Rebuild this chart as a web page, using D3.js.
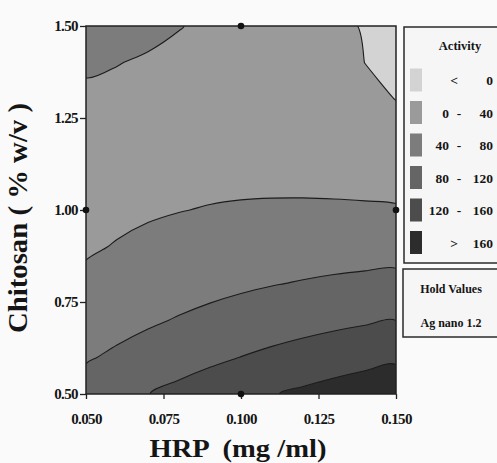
<!DOCTYPE html>
<html>
<head>
<meta charset="utf-8">
<script src="https://cdn.jsdelivr.net/npm/d3@7"></script>
<style>
  html, body { margin: 0; padding: 0; background: #fafafa; }
  svg { display: block; }
  text { font-family: "Liberation Serif", "DejaVu Serif", serif; fill: #151515; }
</style>
</head>
<body>
<svg id="chart" width="497" height="463"></svg>
<script>
// Grid of HRP (x) and Chitosan (y) levels for the response surface
const hrp = [0.05, 0.06, 0.07, 0.08, 0.09, 0.10, 0.11, 0.12, 0.13, 0.14, 0.15];
const chitosan = [0.5, 0.6, 0.7, 0.8, 0.9, 1.0, 1.1, 1.2, 1.3, 1.4, 1.5];

// Activity, one row per chitosan level (Ag nano held at 1.2)
const activity = [
  [97.1, 108.4, 119.3, 129.7, 139.6, 149.1, 158.0, 166.5, 174.6, 182.1, 189.2],
  [76.4, 86.2, 95.4, 104.3, 112.6, 120.4, 127.8, 134.7, 141.2, 147.2, 152.7],
  [59.4, 67.6, 75.3, 82.5, 89.2, 95.5, 101.3, 106.6, 111.5, 115.9, 119.8],
  [46.1, 52.7, 58.8, 64.4, 69.6, 74.3, 78.5, 82.2, 85.5, 88.3, 90.6],
  [36.5, 41.5, 46.0, 50.0, 53.6, 56.7, 59.3, 61.5, 63.1, 64.3, 65.1],
  [30.6, 34.0, 36.9, 39.3, 41.3, 42.8, 43.8, 44.4, 44.5, 44.1, 43.2],
  [28.3, 30.1, 31.4, 32.3, 32.7, 32.6, 32.0, 31.0, 29.5, 27.5, 25.1],
  [29.7, 30.0, 29.7, 29.0, 27.7, 26.1, 23.9, 21.3, 18.2, 14.6, 10.6],
  [34.8, 33.5, 31.6, 29.3, 26.5, 23.2, 19.5, 15.3, 10.6, 5.4, -0.2],
  [43.6, 40.7, 37.2, 33.3, 28.9, 24.0, 18.7, 12.9, 6.6, -0.1, -7.3],
  [56.1, 51.5, 46.5, 41.0, 35.0, 28.6, 21.6, 14.2, 6.4, -2.0, -10.8]
];

// Contour levels and legend
const levels = [0, 40, 80, 120, 160];
const bandColors = ["#d3d3d3", "#9a9a9a", "#7c7c7c", "#656565", "#4c4c4c", "#2c2c2c"];
const bandLow = ["<", "0", "40", "80", "120", ">"];
const bandHigh = ["0", "40", "80", "120", "160", "160"];

// Design points
const designX = [0.10, 0.05, 0.15, 0.10];
const designY = [1.50, 1.00, 1.00, 0.50];

const xTicks = [0.050, 0.075, 0.100, 0.125, 0.150];
const yTicks = [0.50, 0.75, 1.00, 1.25, 1.50];

const svg = d3.select("#chart");
const plotLeft = 86, plotRight = 396, plotTop = 26, plotBottom = 394;

const x = d3.scaleLinear().domain([0.05, 0.15]).range([plotLeft, plotRight]);
const y = d3.scaleLinear().domain([0.5, 1.5]).range([plotBottom, plotTop]);

// grid coordinates (sample i sits at i + 0.5) to pixels
const nx = hrp.length, ny = chitosan.length;
const gx = d3.scaleLinear().domain([0.5, nx - 0.5]).range([x(hrp[0]), x(hrp[nx - 1])]);
const gy = d3.scaleLinear().domain([0.5, ny - 0.5]).range([y(chitosan[0]), y(chitosan[ny - 1])]);

const values = activity.flat();
const contours = d3.contours().size([nx, ny]).thresholds(levels)(values);

// each ring drawn as a smooth closed curve through the contour vertices
const ringLine = d3.line()
  .x(p => gx(p[0])).y(p => gy(p[1]))
  .curve(d3.curveCatmullRomClosed.alpha(0.5));
function contourPath(mp) {
  let s = "";
  mp.coordinates.forEach(poly => poly.forEach(ring => {
    s += ringLine(ring.slice(0, -1));
  }));
  return s;
}

svg.append("clipPath").attr("id", "plotClip")
  .append("rect").attr("x", plotLeft).attr("y", plotTop)
  .attr("width", plotRight - plotLeft).attr("height", plotBottom - plotTop);

const plot = svg.append("g").attr("clip-path", "url(#plotClip)");
plot.append("rect").attr("x", plotLeft).attr("y", plotTop)
  .attr("width", plotRight - plotLeft).attr("height", plotBottom - plotTop)
  .attr("fill", bandColors[0]);

plot.selectAll("path.band").data(contours).join("path")
  .attr("class", "band")
  .attr("d", contourPath)
  .attr("fill-rule", "evenodd")
  .attr("fill", (d, i) => bandColors[i + 1])
  .attr("stroke", "#1c1c1c")
  .attr("stroke-width", 1.1)
  .attr("stroke-linejoin", "round");

// plot frame
svg.append("rect").attr("x", plotLeft).attr("y", plotTop)
  .attr("width", plotRight - plotLeft).attr("height", plotBottom - plotTop)
  .attr("fill", "none").attr("stroke", "#222").attr("stroke-width", 1.5);

// axes
const xAxis = svg.append("g").attr("transform", `translate(0,${plotBottom})`)
  .call(d3.axisBottom(x).tickValues(xTicks).tickFormat(d3.format(".3f")).tickSize(5).tickPadding(14));
const yAxis = svg.append("g").attr("transform", `translate(${plotLeft},0)`)
  .call(d3.axisLeft(y).tickValues(yTicks).tickFormat(d3.format(".2f")).tickSize(6).tickPadding(2));
[xAxis, yAxis].forEach(g => {
  g.select(".domain").remove();
  g.selectAll(".tick line").attr("stroke", "#222").attr("stroke-width", 1.3);
  g.selectAll(".tick text")
    .attr("font-family", "Liberation Serif, serif")
    .attr("font-size", 15).attr("font-weight", "bold")
    .attr("fill", "#1a1a1a").attr("letter-spacing", -0.6);
});

// design points
svg.selectAll("circle.pt").data(designX).join("circle")
  .attr("class", "pt")
  .attr("cx", d => x(d))
  .attr("cy", (d, i) => y(designY[i]))
  .attr("r", 3.3).attr("fill", "#111");

// axis titles
svg.append("text")
  .attr("x", 238).attr("y", 457)
  .attr("text-anchor", "middle")
  .attr("font-size", 26).attr("font-weight", "bold")
  .attr("textLength", 177).attr("lengthAdjust", "spacingAndGlyphs")
  .style("white-space", "pre")
  .text("HRP  (mg /ml)");

svg.append("text")
  .attr("transform", "translate(27,218) rotate(-90)")
  .attr("text-anchor", "middle")
  .attr("font-size", 28).attr("font-weight", "bold")
  .attr("textLength", 230).attr("lengthAdjust", "spacingAndGlyphs")
  .text("Chitosan ( % w/v )");

// legend
const lg = svg.append("g");
lg.append("rect").attr("x", 404).attr("y", 27).attr("width", 110).attr("height", 236)
  .attr("fill", "#f6f6f6").attr("stroke", "#2a2a2a").attr("stroke-width", 1.5);
lg.append("text").attr("x", 460).attr("y", 50).attr("text-anchor", "middle")
  .attr("font-size", 12.5).attr("font-weight", "bold").text("Activity");

const rowY = d3.scaleLinear().domain([0, 5]).range([80, 242.5]);
const rows = lg.selectAll("g.row").data(bandColors).join("g").attr("class", "row")
  .attr("transform", (d, i) => `translate(0,${rowY(i)})`);
rows.append("rect").attr("x", 410).attr("y", -11.5).attr("width", 12).attr("height", 23)
  .attr("fill", d => d);
rows.append("text")
  .attr("x", (d, i) => (bandLow[i] === "<" || bandLow[i] === ">") ? 458 : 449)
  .attr("y", 5).attr("text-anchor", "end")
  .attr("font-size", 13.5).attr("font-weight", "bold")
  .text((d, i) => bandLow[i]);
rows.filter((d, i) => bandLow[i] !== "<" && bandLow[i] !== ">")
  .append("text").attr("x", 459).attr("y", 5).attr("text-anchor", "middle")
  .attr("font-size", 13.5).attr("font-weight", "bold").text("-");
rows.append("text").attr("x", 493).attr("y", 5).attr("text-anchor", "end")
  .attr("font-size", 13.5).attr("font-weight", "bold")
  .text((d, i) => bandHigh[i]);

// hold values box
const hv = svg.append("g");
hv.append("rect").attr("x", 403).attr("y", 269).attr("width", 110).attr("height", 68)
  .attr("fill", "#f6f6f6").attr("stroke", "#2a2a2a").attr("stroke-width", 1.5);
hv.append("text").attr("x", 451).attr("y", 293).attr("text-anchor", "middle")
  .attr("font-size", 12).attr("font-weight", "bold").text("Hold Values");
hv.append("text").attr("x", 451).attr("y", 327).attr("text-anchor", "middle")
  .attr("font-size", 12).attr("font-weight", "bold").text("Ag nano 1.2");
</script>
</body>
</html>
